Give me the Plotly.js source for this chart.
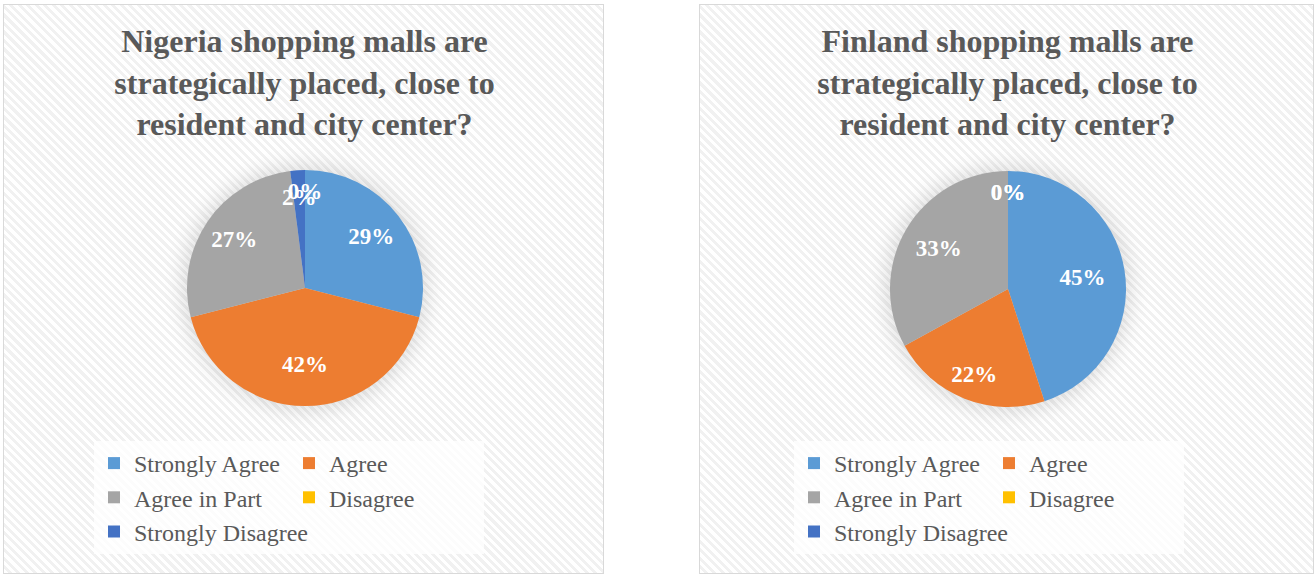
<!DOCTYPE html>
<html>
<head>
<meta charset="utf-8">
<script src="https://cdn.plot.ly/plotly-3.0.1.min.js"></script>
<style>
  html, body { margin: 0; padding: 0; background: #ffffff; width: 1315px; height: 574px; overflow: hidden; }
  .box {
    position: absolute; box-sizing: border-box; border: 1px solid #d9d9d9;
    background: repeating-linear-gradient(45deg, #ffffff 0px, #ffffff 3px, #f1f1f1 3px, #f1f1f1 6px);
  }
  .glow { position: absolute; border-radius: 50%; box-shadow: 0 0 20px 5px rgba(0,0,0,0.13); background: #d8d8d8; }
  .plot { position: absolute; left: 0; top: 0; }
</style>
</head>
<body>
<div id="box1" class="box" style="left:3px; top:4px; width:601px; height:570px;">
  <div class="glow" id="glow1"></div>
  <div id="chart1" class="plot"></div>
</div>
<div id="box2" class="box" style="left:699px; top:4px; width:615px; height:570px;">
  <div class="glow" id="glow2"></div>
  <div id="chart2" class="plot"></div>
</div>
<script>
// ---- data ----
const categories = ["Strongly Agree", "Agree", "Agree in Part", "Disagree", "Strongly Disagree"];
const nigeriaValues = [29, 42, 27, 0, 2];
const finlandValues = [45, 22, 33, 0, 0];
const nigeriaTitle = "Nigeria shopping malls are<br>strategically placed, close to<br>resident and city center?";
const finlandTitle = "Finland shopping malls are<br>strategically placed, close to<br>resident and city center?";
const sliceColors = ["#5B9BD5", "#ED7D31", "#A5A5A5", "#FFC000", "#4472C4"];

const FONT = "'Liberation Serif', 'Times New Roman', Times, serif";
const LABEL_FONT = { family: FONT, size: 23, color: "#ffffff", weight: 700 };

function makeChart(divId, glowId, W, H, values, title, cx, cy, R, legendLeft) {
  const l = legendLeft, plotW = 420, r = W - l - plotW;
  const fromBottom = H - cy;
  const glow = document.getElementById(glowId);
  glow.style.left = (cx - R + 1) + "px";
  glow.style.top = (cy - R + 1) + "px";
  glow.style.width = (2 * R - 2) + "px";
  glow.style.height = (2 * R - 2) + "px";

  function dom(rad) {
    return {
      x: [(cx - rad - l) / plotW, (cx + rad - l) / plotW],
      y: [(fromBottom - rad) / H, (fromBottom + rad) / H]
    };
  }

  const total = values.reduce((a, b) => a + b, 0);
  const isThin = values.map(v => v / total < 0.05);
  const clear = categories.map(() => "rgba(0,0,0,0)");

  function base() {
    return {
      type: "pie",
      labels: categories,
      values: values,
      sort: false,
      direction: "clockwise",
      rotation: 0,
      textposition: "inside",
      insidetextorientation: "horizontal",
      textfont: LABEL_FONT,
      hoverinfo: "skip"
    };
  }

  const slices = Object.assign(base(), {
    marker: { colors: sliceColors, line: { width: 0 } },
    textinfo: "none",
    domain: dom(R),
    showlegend: true
  });

  // transparent companion pies that only carry the percentage labels
  const bigLabels = Object.assign(base(), {
    marker: { colors: clear, line: { width: 0 } },
    texttemplate: isThin.map(t => t ? "" : "%{percent:.0%}"),
    domain: dom(R * 1.27),
    showlegend: false
  });
  const thinLabels = Object.assign(base(), {
    marker: { colors: clear, line: { width: 0 } },
    texttemplate: isThin.map(t => t ? "%{percent:.0%}" : ""),
    domain: dom(R * 0.82),
    showlegend: false
  });

  const layout = {
    width: W, height: H,
    margin: { l: l, r: r, t: 0, b: 0, pad: 0 },
    paper_bgcolor: "rgba(0,0,0,0)",
    plot_bgcolor: "rgba(0,0,0,0)",
    font: { family: FONT, color: "#595959" },
    uniformtext: { minsize: 23, mode: "show" },
    title: {
      text: title,
      font: { family: FONT, size: 32, color: "#595959", weight: 700 },
      xref: "container", x: 0.5, xanchor: "center",
      yref: "container", y: 1 - 47 / H, yanchor: "top"
    },
    legend: {
      orientation: "h",
      x: 0, xanchor: "left",
      y: 1 - 436 / H, yanchor: "top",
      entrywidth: 150, entrywidthmode: "pixels",
      bgcolor: "rgba(255,255,255,0.75)",
      font: { family: FONT, size: 24, color: "#595959" },
      traceorder: "normal"
    },
    showlegend: true
  };

  Plotly.newPlot(divId, [slices, bigLabels, thinLabels], layout, { staticPlot: true, displayModeBar: false });
}

makeChart("chart1", "glow1", 601, 570, nigeriaValues, nigeriaTitle, 301, 283, 118, 90);
makeChart("chart2", "glow2", 615, 570, finlandValues, finlandTitle, 308, 284, 118, 94);
</script>
</body>
</html>
